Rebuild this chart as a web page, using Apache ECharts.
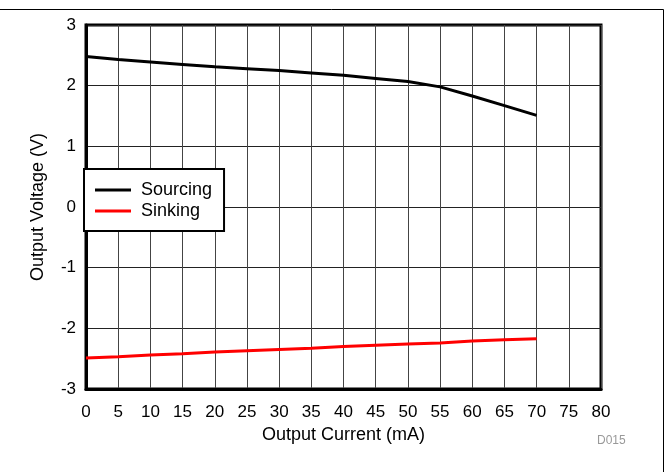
<!DOCTYPE html>
<html lang="en">
<head>
    <meta charset="UTF-8">
    <title>Output Voltage vs Output Current</title>
    <script src="https://cdn.jsdelivr.net/npm/echarts@6/dist/echarts.min.js"></script>
    <style>
        html, body { margin: 0; padding: 0; background: #fff; }
    </style>
</head>
<body>
    <div id="main" style="width: 669px; height: 472px;"></div>
    <script>
        // values
        const currentMA = [0, 5, 10, 15, 20, 25, 30, 35, 40, 45, 50, 55, 60, 65, 70];
        const sourcingV = [2.48, 2.43, 2.39, 2.35, 2.31, 2.28, 2.25, 2.21, 2.17, 2.12, 2.07, 1.98, 1.83, 1.67, 1.51];
        const sinkingV = [-2.49, -2.47, -2.44, -2.42, -2.39, -2.37, -2.35, -2.33, -2.30, -2.28, -2.26, -2.24, -2.21, -2.19, -2.17];

        const font = "'Liberation Sans', Arial, sans-serif";
        const pairs = (xs, ys) => xs.map((x, i) => [x, ys[i]]);

        const chart = echarts.init(document.getElementById("main"));
        const option = {
            backgroundColor: "#fff",
            animation: false,
            textStyle: { fontFamily: font },
            grid: {
                left: 86, right: 68, top: 25, bottom: 83,
                show: true,
                borderColor: "#000",
                borderWidth: 3
            },
            xAxis: {
                type: "value",
                min: 0, max: 80, interval: 5,
                name: "Output Current (mA)",
                nameLocation: "middle",
                nameGap: 36,
                nameTextStyle: { fontSize: 18, color: "#000", fontFamily: font },
                axisLine: { show: true, onZero: false, lineStyle: { color: "#000", width: 3 } },
                axisTick: { show: false },
                axisLabel: { fontSize: 17, color: "#000", margin: 15, fontFamily: font },
                splitLine: { show: true, lineStyle: { color: "#444", width: 1 } }
            },
            yAxis: {
                type: "value",
                min: -3, max: 3, interval: 1,
                name: "Output Voltage (V)",
                nameLocation: "middle",
                nameGap: 39,
                nameTextStyle: { fontSize: 18, color: "#000", fontFamily: font },
                axisLine: { show: true, onZero: false, lineStyle: { color: "#000", width: 3 } },
                axisTick: { show: false },
                axisLabel: { fontSize: 17, color: "#000", margin: 10, fontFamily: font },
                splitLine: { show: true, lineStyle: { color: "#222", width: 1 } }
            },
            legend: {
                left: 84, top: 169,
                orient: "vertical",
                backgroundColor: "#fff",
                borderColor: "#000",
                borderWidth: 2,
                borderRadius: 0,
                padding: [11, 12, 10, 11],
                itemGap: 1,
                itemWidth: 36,
                itemHeight: 3,
                icon: "rect",
                textStyle: { fontSize: 18, color: "#000", lineHeight: 20, padding: [0, 0, 0, 5], fontFamily: font },
                data: ["Sourcing", "Sinking"]
            },
            graphic: [
                { type: "line", shape: { x1: 0, y1: 9.5, x2: 663.5, y2: 9.5 }, style: { stroke: "#000", lineWidth: 1 } },
                { type: "line", shape: { x1: 663.5, y1: 9.5, x2: 663.5, y2: 472 }, style: { stroke: "#000", lineWidth: 1 } },
                { type: "text", left: 597, top: 435, style: { text: "D015", fill: "#999", fontSize: 12, fontFamily: font } }
            ],
            series: [
                {
                    name: "Sourcing",
                    type: "line",
                    showSymbol: false,
                    color: "#000",
                    lineStyle: { color: "#000", width: 3 },
                    data: pairs(currentMA, sourcingV)
                },
                {
                    name: "Sinking",
                    type: "line",
                    showSymbol: false,
                    color: "#ff0000",
                    lineStyle: { color: "#ff0000", width: 3 },
                    data: pairs(currentMA, sinkingV)
                }
            ]
        };
        chart.setOption(option);
    </script>
</body>
</html>
